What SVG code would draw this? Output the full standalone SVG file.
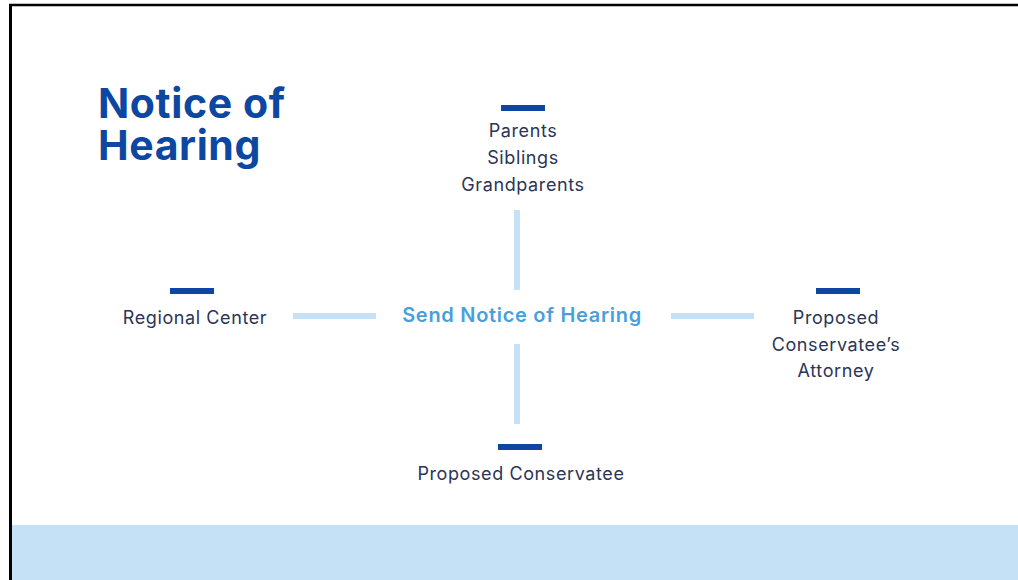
<svg xmlns="http://www.w3.org/2000/svg" width="1018" height="580" viewBox="0 0 1018 580">
<style>
.lbl{font-family:Inter,"Open Sans","Liberation Sans",sans-serif;font-size:18px;fill:#2b3557;text-anchor:middle;letter-spacing:0.6px}
.bar{fill:#0d47a1}
.conn{stroke:#c5e1f5;stroke-width:6;fill:none}
</style>
<rect x="0" y="0" width="1018" height="580" fill="#ffffff"/>
<rect x="12" y="525" width="1006" height="55" fill="#c5e1f5"/>
<line x1="10.5" y1="4" x2="10.5" y2="580" stroke="#000" stroke-width="3"/>
<line x1="9" y1="5" x2="1018" y2="5" stroke="#000" stroke-width="2.5"/>
<g id="title">
<text x="98" y="118" font-family="Inter,'Open Sans','Liberation Sans',sans-serif" font-size="41" font-weight="700" fill="#0d47a1" letter-spacing="0.6">Notice of</text>
<text x="98" y="160" font-family="Inter,'Open Sans','Liberation Sans',sans-serif" font-size="41" font-weight="700" fill="#0d47a1" letter-spacing="0.6">Hearing</text>
</g>
<g id="connectors">
<line class="conn" x1="517" y1="210" x2="517" y2="290"/>
<line class="conn" x1="517" y1="344" x2="517" y2="424"/>
<line class="conn" x1="293" y1="316" x2="376" y2="316"/>
<line class="conn" x1="671" y1="316" x2="754" y2="316"/>
</g>
<g id="center">
<text x="522" y="322" font-family="Inter,'Open Sans','Liberation Sans',sans-serif" font-size="20" font-weight="600" fill="#4a9fdb" text-anchor="middle" letter-spacing="0.7">Send Notice of Hearing</text>
</g>
<g id="family">
<rect class="bar" x="501" y="105" width="44" height="6"/>
<text class="lbl" x="523" y="137">Parents</text>
<text class="lbl" x="523" y="164">Siblings</text>
<text class="lbl" x="523" y="191">Grandparents</text>
</g>
<g id="regional">
<rect class="bar" x="170" y="288" width="44" height="6"/>
<text class="lbl" x="195" y="324">Regional Center</text>
</g>
<g id="attorney">
<rect class="bar" x="816" y="288" width="44" height="6"/>
<text class="lbl" x="836" y="324">Proposed</text>
<text class="lbl" x="836" y="351">Conservatee’s</text>
<text class="lbl" x="836" y="377">Attorney</text>
</g>
<g id="conservatee">
<rect class="bar" x="498" y="444" width="44" height="6"/>
<text class="lbl" x="521" y="480">Proposed Conservatee</text>
</g>
</svg>
